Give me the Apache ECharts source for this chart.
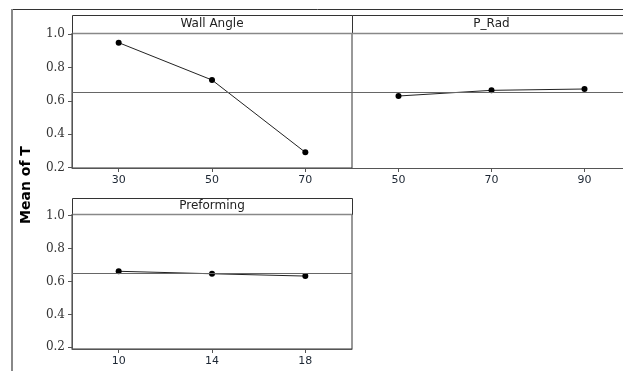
<!DOCTYPE html>
<html>
<head>
<meta charset="utf-8">
<style>
html,body{margin:0;padding:0;background:#fff;}
#chart{width:623px;height:371px;}
</style>
<script src="https://cdn.jsdelivr.net/npm/echarts@6.0.0/dist/echarts.min.js"></script>
</head>
<body>
<div id="chart"></div>
<script>
// ---- data ----
const panelTitles = ['Wall Angle', 'P_Rad', 'Preforming'];
const wallAngleX = [30, 50, 70];
const wallAngleMean = [0.950, 0.726, 0.292];
const pRadX = [50, 70, 90];
const pRadMean = [0.630, 0.664, 0.672];
const preformingX = [10, 14, 18];
const preformingMean = [0.662, 0.647, 0.633];
const grandMean = 0.653;
const yTicks = [0.2, 0.4, 0.6, 0.8, 1.0];
const yAxisTitle = 'Mean of T';

// ---- layout (style only) ----
const panels = [
  {left: 72, top: 33, width: 280, height: 135, strip: 18, xmin: 20, xmax: 80, xint: 20, ymin: 0.198, ymax: 1.008, yLabels: true, border: true, xs: wallAngleX, ys: wallAngleMean},
  {left: 352, top: 33, width: 279, height: 135, strip: 18, xmin: 40, xmax: 100, xint: 20, ymin: 0.198, ymax: 1.008, yLabels: false, border: false, xs: pRadX, ys: pRadMean},
  {left: 72, top: 214, width: 280, height: 135, strip: 16, xmin: 8, xmax: 20, xint: 4, ymin: 0.19, ymax: 1.01, yLabels: true, border: true, xs: preformingX, ys: preformingMean}
];

const chart = echarts.init(document.getElementById('chart'), null, {renderer: 'canvas'});

const grid = [], xAxis = [], yAxis = [], series = [], graphic = [];
panels.forEach((p, i) => {
  grid.push({left: p.left, top: p.top, width: p.width, height: p.height, show: p.border,
    borderColor: '#333', borderWidth: 1, backgroundColor: 'transparent', outerBoundsMode: 'none', containLabel: false});
  xAxis.push({type: 'value', gridIndex: i, min: p.xmin, max: p.xmax, interval: p.xint,
    axisLine: {show: true, lineStyle: {color: '#555', width: 1}},
    axisTick: {show: true, inside: false, length: 4, lineStyle: {color: '#555'}, customValues: p.xs},
    axisLabel: {show: true, margin: 7, color: '#1c2633', fontSize: 11, fontFamily: 'DejaVu Sans', customValues: p.xs},
    splitLine: {show: false}});
  yAxis.push({type: 'value', gridIndex: i, min: p.ymin, max: p.ymax,
    axisLine: {show: p.yLabels, lineStyle: {color: '#555', width: 1}},
    axisTick: {show: p.yLabels, inside: false, length: 4, lineStyle: {color: '#555'}, customValues: yTicks},
    axisLabel: {show: p.yLabels, margin: 7, color: '#333', fontSize: 12, fontFamily: 'DejaVu Serif',
      customValues: yTicks, formatter: v => v.toFixed(1)},
    splitLine: {show: false}});
  series.push({type: 'line', xAxisIndex: i, yAxisIndex: i,
    data: p.xs.map((x, k) => [x, p.ys[k]]),
    symbol: 'circle', symbolSize: 6, itemStyle: {color: '#000'},
    lineStyle: {color: '#222', width: 1}, silent: true,
    markLine: {silent: true, symbol: 'none', label: {show: false},
      lineStyle: {color: '#666', width: 1, type: 'solid'}, data: [{yAxis: grandMean}]}});
  graphic.push({type: 'rect', silent: true,
    shape: {x: p.left + 0.5, y: p.top - p.strip + 0.5, width: p.width, height: p.strip},
    style: {fill: '#fff', stroke: '#333', lineWidth: 1}});
  graphic.push({type: 'line', silent: true,
    shape: {x1: p.left, y1: p.top + 0.5, x2: p.left + p.width, y2: p.top + 0.5},
    style: {stroke: '#888', lineWidth: 1.5}});
  graphic.push({type: 'text', silent: true,
    x: p.left + p.width / 2, y: p.top - p.strip / 2,
    style: {text: panelTitles[i], fill: '#222', font: '12px "DejaVu Sans"', align: 'center', verticalAlign: 'middle'}});
});

// outer frame
graphic.push({type: 'line', silent: true, shape: {x1: 12, y1: 9.5, x2: 623, y2: 9.5}, style: {stroke: '#333', lineWidth: 1}});
graphic.push({type: 'line', silent: true, shape: {x1: 12, y1: 9, x2: 12, y2: 371}, style: {stroke: '#888', lineWidth: 2}});
// y title
graphic.push({type: 'text', silent: true, x: 26, y: 185, rotation: Math.PI / 2,
  style: {text: yAxisTitle, fill: '#000', font: 'bold 14px "DejaVu Sans"', align: 'center', verticalAlign: 'middle'}});

chart.setOption({animation: false, backgroundColor: '#fff', grid, xAxis, yAxis, series, graphic});
</script>
</body>
</html>
